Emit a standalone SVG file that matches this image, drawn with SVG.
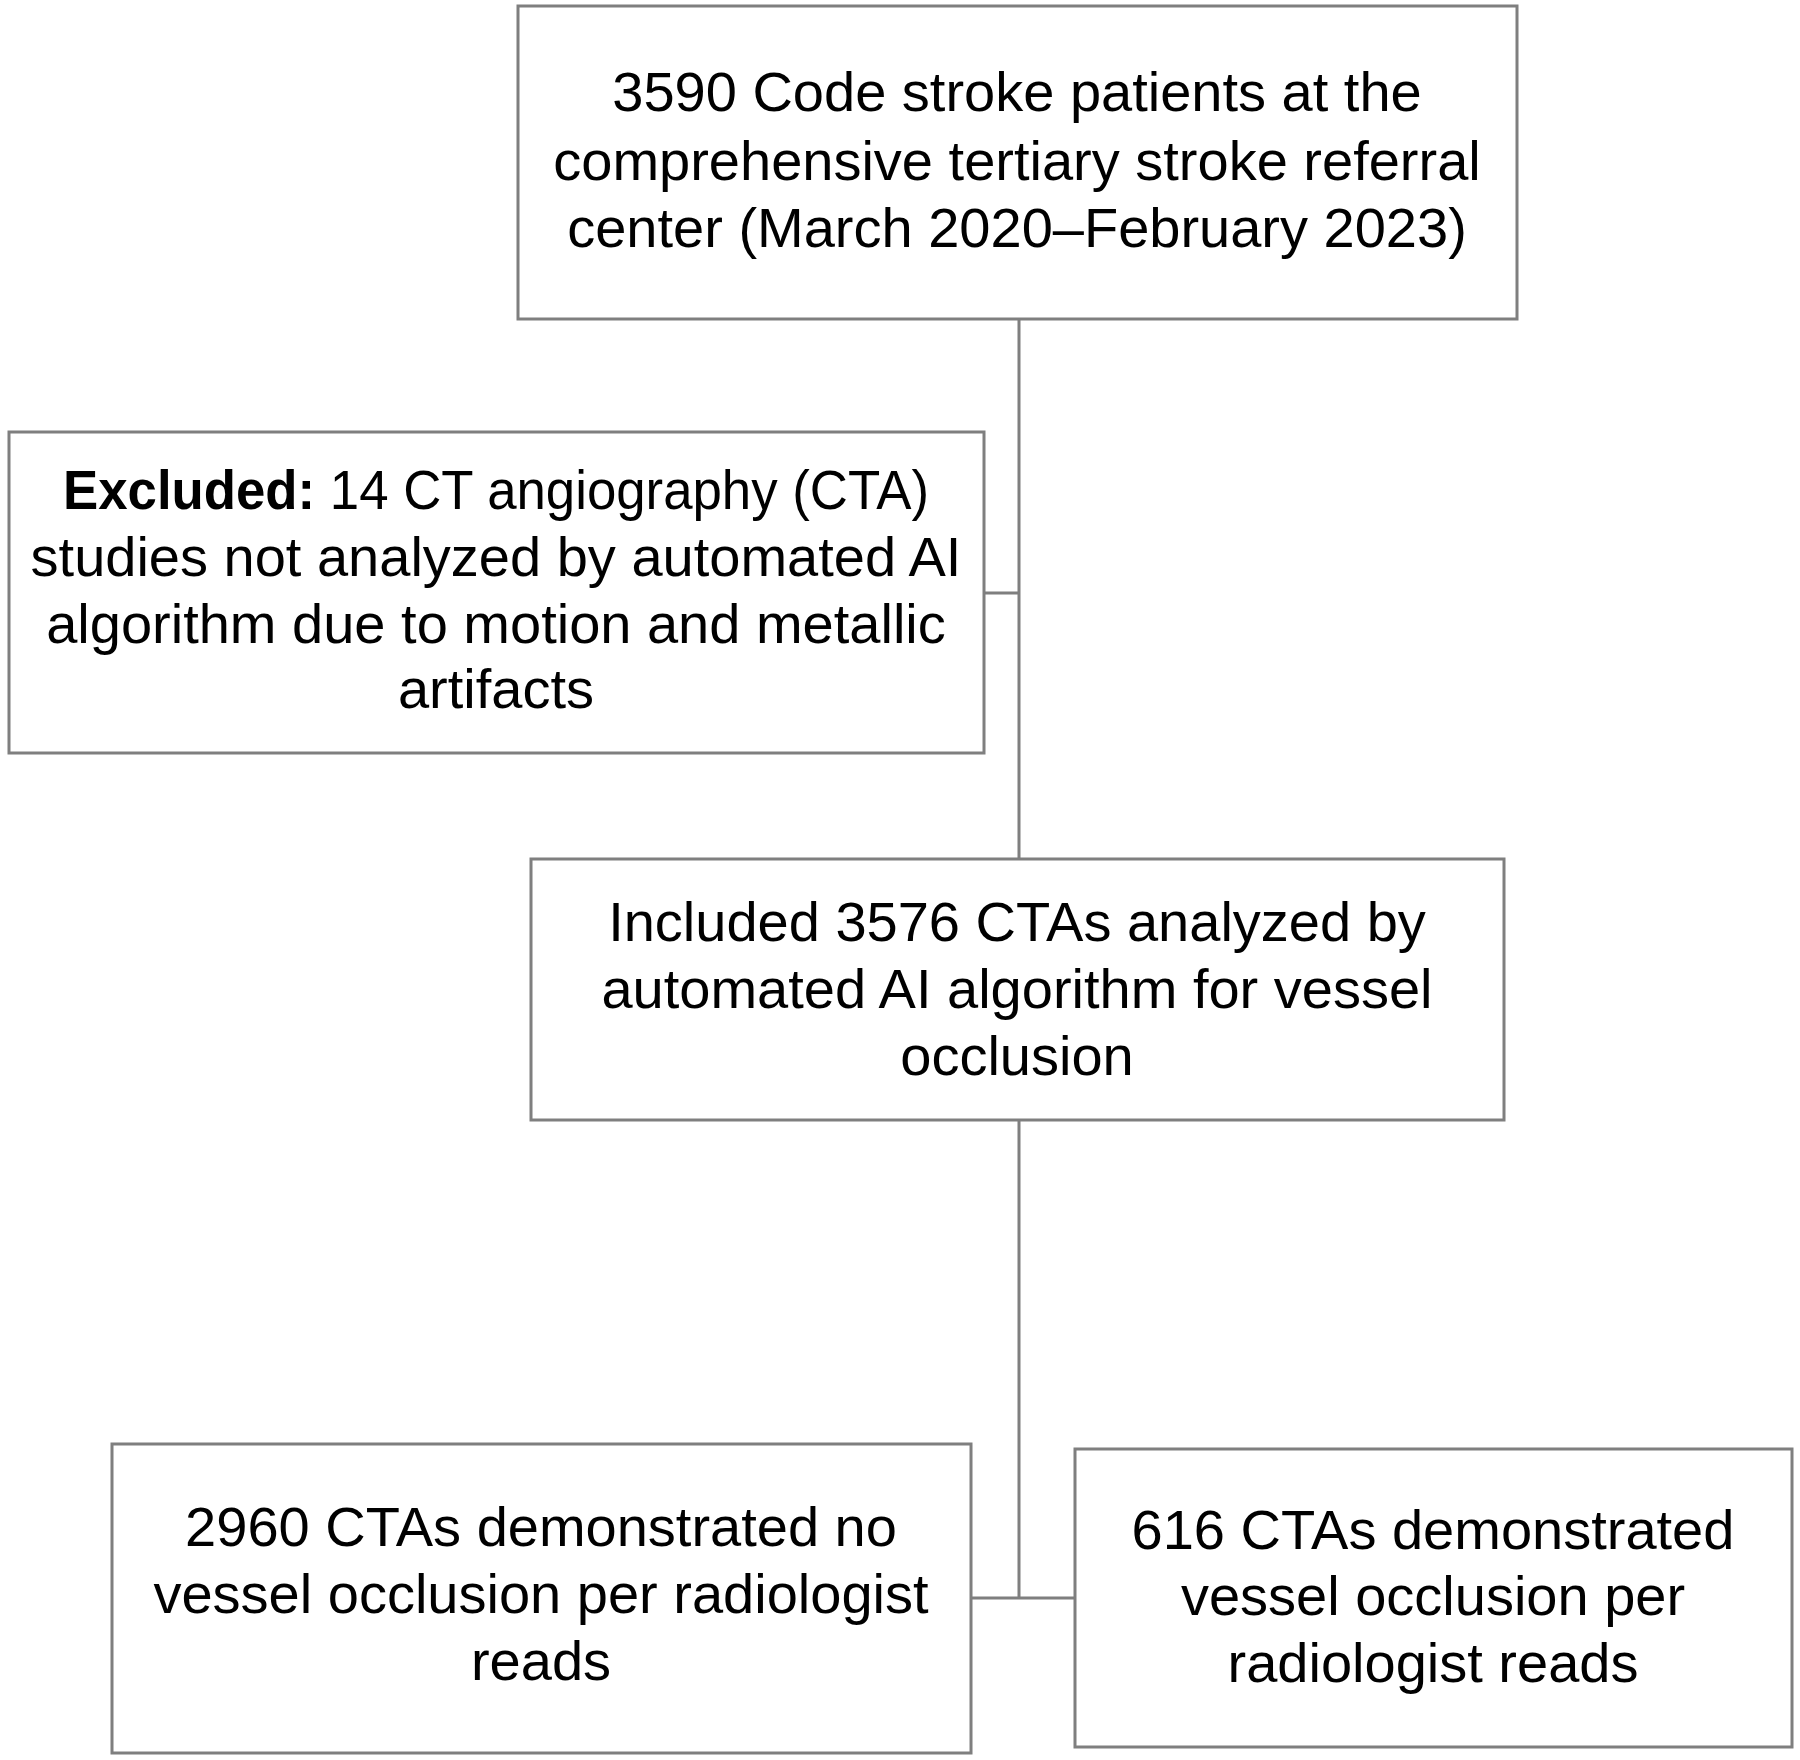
<svg xmlns="http://www.w3.org/2000/svg" width="1800" height="1760" viewBox="0 0 1800 1760">
<style>
.box{fill:#ffffff;stroke:#7f7f7f;stroke-width:3}
.con{fill:none;stroke:#7f7f7f;stroke-width:3}
text{font-family:"Liberation Sans",Arial,sans-serif;font-size:56px;fill:#000;text-anchor:middle}
.b{font-weight:bold}
</style>
<rect width="1800" height="1760" fill="#ffffff"/>
<g id="connectors">
<line class="con" x1="1019" y1="319" x2="1019" y2="859"/>
<line class="con" x1="984" y1="593" x2="1019" y2="593"/>
<line class="con" x1="1019" y1="1120" x2="1019" y2="1598"/>
<line class="con" x1="971" y1="1598" x2="1075" y2="1598"/>
</g>
<g id="node-start">
<rect class="box" x="518" y="6" width="999" height="313"/>
<text x="1017" y="111">3590 Code stroke patients at the</text>
<text x="1017" y="180">comprehensive tertiary stroke referral</text>
<text x="1017" y="247">center (March 2020–February 2023)</text>
</g>
<g id="node-excluded">
<rect class="box" x="9" y="432" width="975" height="321"/>
<text x="496" y="509" textLength="866" lengthAdjust="spacingAndGlyphs"><tspan class="b">Excluded:</tspan> 14 CT angiography (CTA)</text>
<text x="496" y="576">studies not analyzed by automated AI</text>
<text x="496" y="643">algorithm due to motion and metallic</text>
<text x="496" y="708">artifacts</text>
</g>
<g id="node-included">
<rect class="box" x="531" y="859" width="973" height="261"/>
<text x="1017" y="941">Included 3576 CTAs analyzed by</text>
<text x="1017" y="1008">automated AI algorithm for vessel</text>
<text x="1017" y="1075">occlusion</text>
</g>
<g id="node-no-occlusion">
<rect class="box" x="112" y="1444" width="859" height="309"/>
<text x="541" y="1546">2960 CTAs demonstrated no</text>
<text x="541" y="1613">vessel occlusion per radiologist</text>
<text x="541" y="1680">reads</text>
</g>
<g id="node-occlusion">
<rect class="box" x="1075" y="1449" width="717" height="298"/>
<text x="1433" y="1549">616 CTAs demonstrated</text>
<text x="1433" y="1615">vessel occlusion per</text>
<text x="1433" y="1682">radiologist reads</text>
</g>
</svg>
